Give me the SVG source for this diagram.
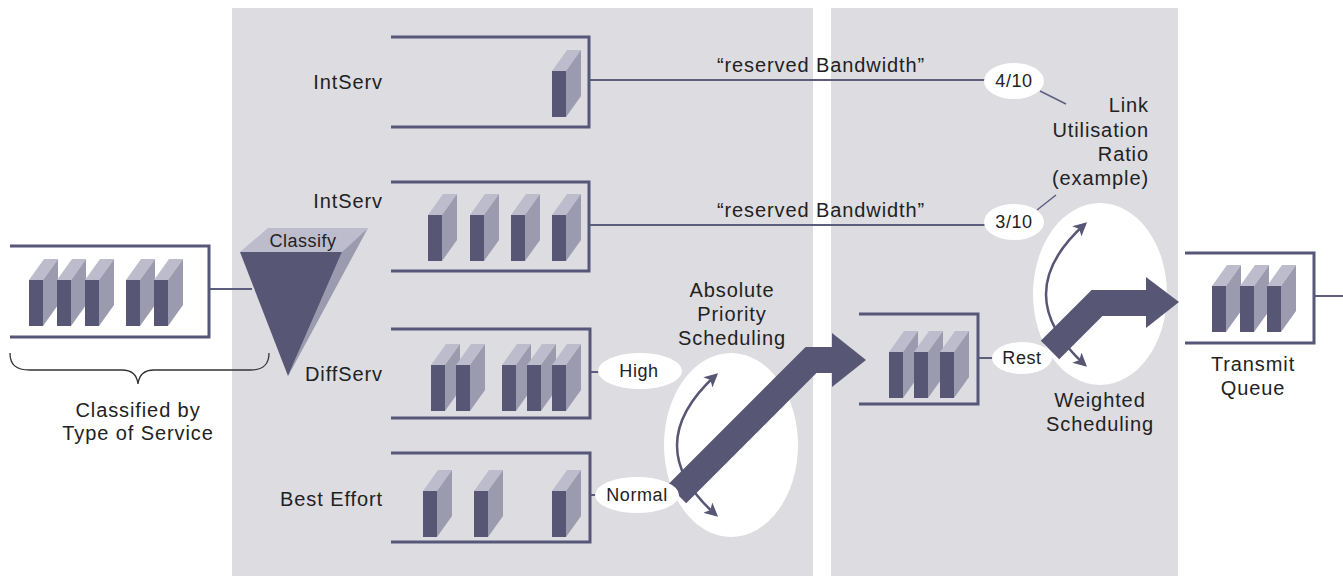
<svg xmlns="http://www.w3.org/2000/svg" xmlns:xlink="http://www.w3.org/1999/xlink" width="1343" height="576" viewBox="0 0 1343 576">
  <style>
    text { font-family: "Liberation Sans", Arial, sans-serif; fill: #222; }
    .lbl { font-size: 20px; letter-spacing: 0.9px; }
    .sm { font-size: 18px; letter-spacing: 0.6px; text-anchor: middle; }
    .mid { text-anchor: middle; }
    .end { text-anchor: end; }
    .panel { fill: #dcdce1; }
    .box { fill: none; stroke: #57577a; stroke-width: 3; }
    .wire { fill: none; stroke: #5d5d7e; stroke-width: 2; }
    .lead { fill: none; stroke: #5d5d7e; stroke-width: 1.5; }
    .oval { fill: #ffffff; }
    .dark { fill: #575775; }
    .face-top { fill: #bdbccd; }
    .face-side { fill: #9b9aae; }
    .band { fill: none; stroke: #575775; stroke-width: 26; stroke-linejoin: miter; }
    .swing { fill: none; stroke: #575775; stroke-width: 2.5; marker-start: url(#tip); marker-end: url(#tip); }
    .brace { fill: none; stroke: #333; stroke-width: 1.3; }
  </style>
  <defs>
    <!-- one packet: front face at (0,0), extruded up and to the right -->
    <g id="pkt">
      <polygon class="face-top" points="0,0 15,-21 29,-21 14,0"/>
      <polygon class="face-side" points="14,0 29,-21 29,25 14,46"/>
      <rect class="dark" x="0" y="0" width="14" height="46"/>
    </g>
    <marker id="tip" viewBox="0 0 10 10" refX="8" refY="5" markerWidth="5.5" markerHeight="5.5" orient="auto-start-reverse" markerUnits="strokeWidth">
      <path d="M0,0 L10,5 L0,10 L2.5,5 Z" fill="#575775"/>
    </marker>
  </defs>

  <rect width="1343" height="576" fill="#ffffff"/>

  <!-- shaded stages -->
  <rect class="panel" x="232" y="8" width="581" height="568"/>
  <rect class="panel" x="831" y="8" width="347" height="568"/>

  <!-- scheduler discs -->
  <ellipse class="oval" cx="731" cy="445" rx="67" ry="92"/>
  <ellipse class="oval" cx="1100" cy="294" rx="67" ry="91"/>

  <g id="connectors">
    <line class="wire" x1="209" y1="289" x2="252" y2="289"/>
    <line class="wire" x1="589" y1="80" x2="986" y2="80"/>
    <line class="wire" x1="589" y1="225" x2="986" y2="225"/>
    <line class="wire" x1="590" y1="372" x2="600" y2="372"/>
    <line class="wire" x1="590" y1="495" x2="597" y2="495"/>
    <line class="wire" x1="978" y1="358" x2="994" y2="358"/>
    <line class="wire" x1="1314" y1="296" x2="1343" y2="296"/>
    <line class="lead" x1="1040" y1="91" x2="1066" y2="104"/>
    <line class="lead" x1="1037" y1="210" x2="1056" y2="195"/>
    <path class="swing" d="M716,375 Q638,446 716,515"/>
    <path class="swing" d="M1085,224 Q1007,294 1085,365"/>
    <path class="band" d="M677,494 L811,360 L834,360"/>
    <polygon class="dark" points="832,333 866,360 832,387"/>
    <path class="band" d="M1050,350 L1097,303 L1148,303"/>
    <polygon class="dark" points="1146,277 1179,302 1146,328"/>
  </g>

  <!-- incoming queue -->
  <g id="input">
    <path class="box" d="M10,246 H209 V337 H10"/>
    <use xlink:href="#pkt" x="29" y="280"/>
    <use xlink:href="#pkt" x="57" y="280"/>
    <use xlink:href="#pkt" x="85" y="280"/>
    <use xlink:href="#pkt" x="126" y="280"/>
    <use xlink:href="#pkt" x="154" y="280"/>
    <path class="brace" d="M10,353 C10,364 15,370 30,370 H122 C132,370 137,375 138,384 C139,375 144,370 154,370 H250 C264,370 269,364 269,353"/>
    <text class="lbl mid" x="138" y="417">Classified by</text>
    <text class="lbl mid" x="138" y="440">Type of Service</text>
  </g>

  <!-- classifier funnel -->
  <g id="classify">
    <polygon class="face-top" points="240,252 268,228 368,228 342,252"/>
    <polygon class="face-side" points="342,252 368,228 293,367 288,376"/>
    <polygon class="dark" points="240,252 342,252 288,376"/>
    <text x="303" y="247" class="mid" font-size="18" letter-spacing="0.5">Classify</text>
  </g>

  <g id="q-intserv-1">
    <path class="box" d="M391,37 H589 V127 H391"/>
    <use xlink:href="#pkt" x="552" y="71"/>
    <text class="lbl end" x="383" y="89">IntServ</text>
  </g>

  <g id="q-intserv-2">
    <path class="box" d="M391,182 H589 V271 H391"/>
    <use xlink:href="#pkt" x="428" y="215"/>
    <use xlink:href="#pkt" x="470" y="215"/>
    <use xlink:href="#pkt" x="511" y="215"/>
    <use xlink:href="#pkt" x="552" y="215"/>
    <text class="lbl end" x="383" y="208">IntServ</text>
  </g>

  <g id="q-diffserv">
    <path class="box" d="M391,329 H590 V418 H391"/>
    <use xlink:href="#pkt" x="431" y="365"/>
    <use xlink:href="#pkt" x="456" y="365"/>
    <use xlink:href="#pkt" x="502" y="365"/>
    <use xlink:href="#pkt" x="527" y="365"/>
    <use xlink:href="#pkt" x="552" y="365"/>
    <text class="lbl end" x="383" y="381">DiffServ</text>
  </g>

  <g id="q-best-effort">
    <path class="box" d="M391,453 H590 V542 H391"/>
    <use xlink:href="#pkt" x="423" y="491"/>
    <use xlink:href="#pkt" x="474" y="491"/>
    <use xlink:href="#pkt" x="552" y="491"/>
    <text class="lbl end" x="383" y="506">Best Effort</text>
  </g>

  <g id="priority-scheduler">
    <text class="lbl mid" x="732" y="297">Absolute</text>
    <text class="lbl mid" x="732" y="321">Priority</text>
    <text class="lbl mid" x="732" y="345">Scheduling</text>
  </g>

  <g id="tag-high">
    <ellipse class="oval" cx="640" cy="371" rx="42" ry="18"/>
    <text class="sm" x="639" y="377">High</text>
  </g>
  <g id="tag-normal">
    <ellipse class="oval" cx="637" cy="495" rx="42" ry="18"/>
    <text class="sm" x="637" y="501">Normal</text>
  </g>

  <g id="q-rest">
    <path class="box" d="M859,314 H978 V404 H859"/>
    <use xlink:href="#pkt" x="889" y="352"/>
    <use xlink:href="#pkt" x="914" y="352"/>
    <use xlink:href="#pkt" x="940" y="352"/>
  </g>
  <g id="tag-rest">
    <ellipse class="oval" cx="1022" cy="358" rx="30" ry="16"/>
    <text class="sm" x="1022" y="364">Rest</text>
  </g>

  <g id="weighted-scheduler">
    <text class="lbl mid" x="1100" y="407">Weighted</text>
    <text class="lbl mid" x="1100" y="431">Scheduling</text>
  </g>

  <g id="ratio-4">
    <ellipse class="oval" cx="1014" cy="81" rx="30" ry="18"/>
    <text class="sm" x="1014" y="87">4/10</text>
  </g>
  <g id="ratio-3">
    <ellipse class="oval" cx="1014" cy="222" rx="30" ry="18"/>
    <text class="sm" x="1014" y="228">3/10</text>
  </g>

  <g id="ratio-note">
    <text class="lbl end" x="1149" y="112">Link</text>
    <text class="lbl end" x="1149" y="137">Utilisation</text>
    <text class="lbl end" x="1149" y="161">Ratio</text>
    <text class="lbl end" x="1149" y="185">(example)</text>
  </g>

  <g id="bandwidth-labels">
    <text class="lbl mid" x="821" y="72">“reserved Bandwidth”</text>
    <text class="lbl mid" x="821" y="217">“reserved Bandwidth”</text>
  </g>

  <g id="q-transmit">
    <path class="box" d="M1185,253 H1314 V343 H1185"/>
    <use xlink:href="#pkt" x="1212" y="286"/>
    <use xlink:href="#pkt" x="1240" y="286"/>
    <use xlink:href="#pkt" x="1267" y="286"/>
    <text class="lbl mid" x="1253" y="371">Transmit</text>
    <text class="lbl mid" x="1253" y="395">Queue</text>
  </g>
</svg>
